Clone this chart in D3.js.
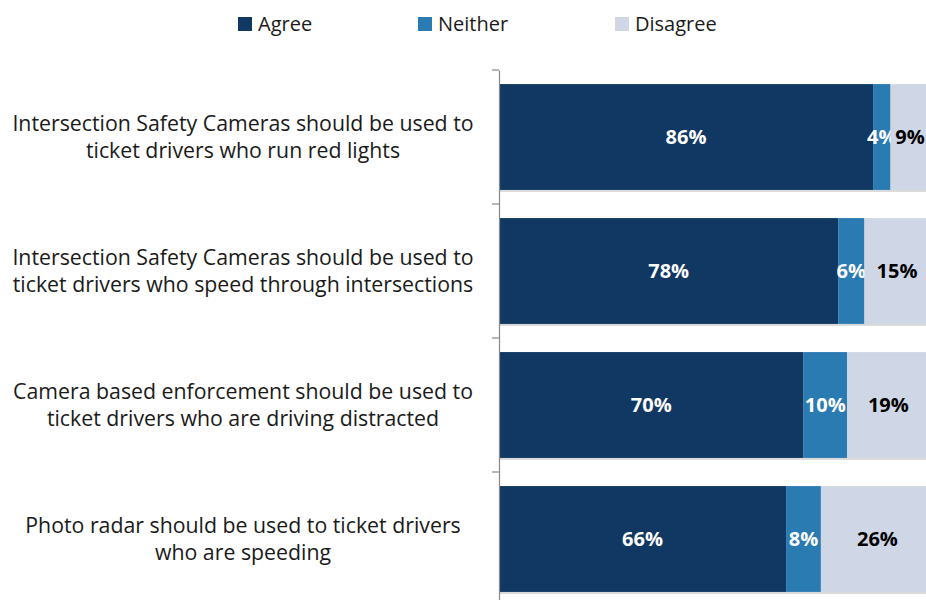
<!DOCTYPE html>
<html><head><meta charset="utf-8">
<script src="https://cdn.jsdelivr.net/npm/d3@7"></script>
<style>body{margin:0;background:#fff;}svg{display:block;}</style>
</head><body>
<svg id="c" width="926" height="600"></svg>
<script>
const categories = [
  ["Intersection Safety Cameras should be used to", "ticket drivers who run red lights"],
  ["Intersection Safety Cameras should be used to", "ticket drivers who speed through intersections"],
  ["Camera based enforcement should be used to", "ticket drivers who are driving distracted"],
  ["Photo radar should be used to ticket drivers", "who are speeding"]
];
const seriesNames = ["Agree", "Neither", "Disagree"];
const agree = [86, 78, 70, 66];
const neither = [4, 6, 10, 8];
const disagree = [9, 15, 19, 26];
const colors = ["#113862", "#2b7bb3", "#cfd7e6"];
const labelColors = ["#ffffff", "#ffffff", "#000000"];

const svg = d3.select("#c");
const font = "'Open Sans', sans-serif";
const x0 = 499;
const x = d3.scaleLinear().domain([0, 100]).range([x0, x0 + 435]);
const y = d3.scaleBand().domain(d3.range(categories.length)).range([70, 606]).paddingInner(0.21).paddingOuter(0.105);

const rows = categories.map((c, i) => ({i, vals: [agree[i], neither[i], disagree[i]]}));
const stack = d3.stack().keys([0, 1, 2]).value((d, k) => d.vals[k]);
const layers = stack(rows);

// shadows
svg.append("g").selectAll("rect").data(rows).join("rect")
  .attr("x", x(0) + 1).attr("y", d => y(d.i) + 2)
  .attr("width", d => x(d3.sum(d.vals)) - x(0)).attr("height", y.bandwidth())
  .attr("fill", "#bfbfbf").attr("opacity", 0.6);

layers.forEach((layer, k) => {
  const g = svg.append("g");
  g.selectAll("rect").data(layer).join("rect")
    .attr("x", d => x(d[0])).attr("y", (d, i) => y(i))
    .attr("width", d => x(d[1]) - x(d[0])).attr("height", y.bandwidth())
    .attr("fill", colors[k]);
  g.selectAll("text").data(layer).join("text")
    .attr("x", d => (x(d[0]) + x(d[1])) / 2).attr("y", (d, i) => y(i) + y.bandwidth() / 2)
    .attr("dy", "0.36em").attr("text-anchor", "middle")
    .attr("font-family", font).attr("font-weight", "bold").attr("font-size", 20)
    .attr("fill", labelColors[k])
    .text(d => (d[1] - d[0]) + "%");
});

// axis
const axis = d3.axisLeft(y).tickSize(0).tickFormat("");
const ag = svg.append("g").attr("transform", `translate(${x0},0)`).call(axis);
ag.select(".domain").attr("stroke", "#888").attr("stroke-width", 1.2);
const tickYs = d3.range(categories.length + 1).map(i => 70 + i * y.step());
svg.append("g").selectAll("line").data(tickYs).join("line")
  .attr("x1", x0 - 7).attr("x2", x0).attr("y1", d => d).attr("y2", d => d)
  .attr("stroke", "#888").attr("stroke-width", 1.2);

// category labels
const lab = svg.append("g");
categories.forEach((lines, i) => {
  const cy = y(i) + y.bandwidth() / 2;
  const t = lab.append("text").attr("text-anchor", "middle")
    .attr("font-family", font).attr("font-size", 21.3).attr("fill", "#1a1a1a");
  lines.forEach((ln, j) => {
    t.append("tspan").attr("x", 243).attr("y", cy + (j - (lines.length - 1) / 2) * 27).attr("dy", "0.36em").text(ln);
  });
});

// legend
const legX = [238, 418, 615];
const lg = svg.append("g");
seriesNames.forEach((s, k) => {
  lg.append("rect").attr("x", legX[k]).attr("y", 17).attr("width", 14).attr("height", 14).attr("fill", colors[k]);
  lg.append("text").attr("x", legX[k] + 20).attr("y", 24).attr("dy", "0.36em")
    .attr("font-family", font).attr("font-size", 20).attr("fill", "#1a1a1a").text(s);
});
</script>
</body></html>
